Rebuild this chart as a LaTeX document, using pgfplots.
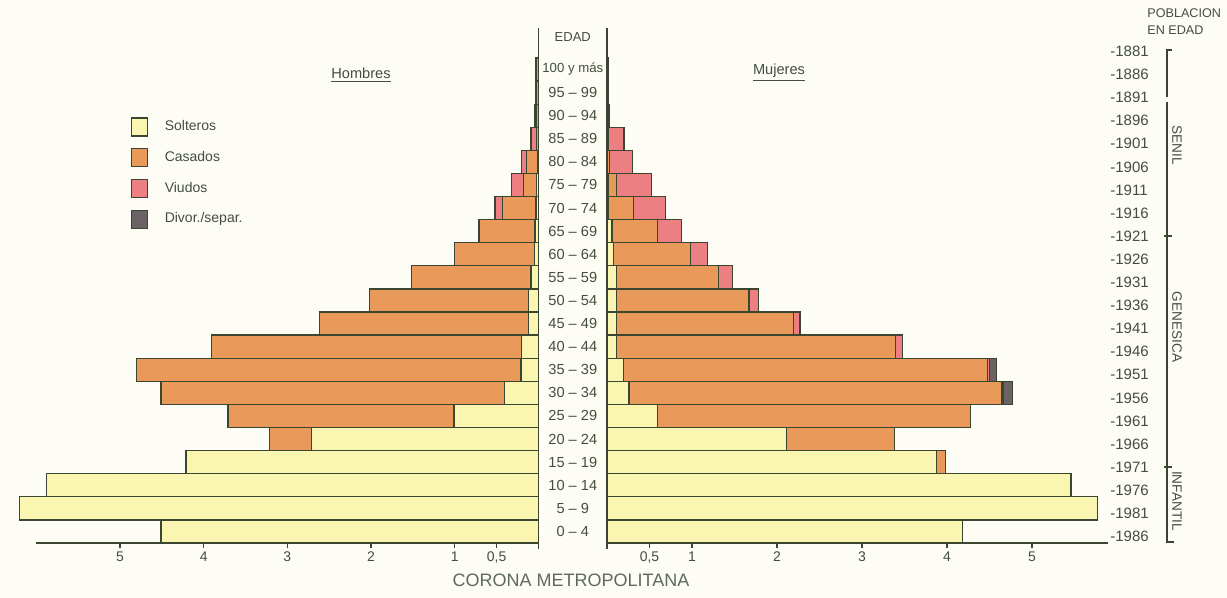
\documentclass[border=0pt]{standalone}
\usepackage{pgfplots}
\pgfplotsset{compat=1.18}
\usepackage{pgfplotstable}
\usepackage{fontspec}
\setmainfont{Liberation Sans}
\definecolor{sol}{HTML}{FAF5B0}
\definecolor{cas}{HTML}{E99A5A}
\definecolor{viu}{HTML}{EC7F82}
\definecolor{dvs}{HTML}{6C6266}
\definecolor{edge}{HTML}{3A4630}
\definecolor{txt}{HTML}{434E40}
\definecolor{bg}{HTML}{FDFDF5}

% y = centre of age group (0-4 -> 0.5 ... 100 y mas -> 20.5); values in %
\pgfplotstableread{
y    sol   cas   viu   dvs
0.5  4.51  0     0     0
1.5  6.20  0     0     0
2.5  5.88  0     0     0
3.5  4.21  0     0     0
4.5  2.71  0.50  0     0
5.5  1.01  2.70  0     0
6.5  0.41  4.10  0     0
7.5  0.21  4.59  0     0
8.5  0.20  3.71  0     0
9.5  0.12  2.50  0     0
10.5 0.12  1.90  0     0
11.5 0.09  1.43  0     0
12.5 0.05  0.95  0     0
13.5 0.04  0.67  0     0
14.5 0.03  0.40  0.09  0
15.5 0.02  0.16  0.14  0
16.5 0.01  0.13  0.06  0
17.5 0     0.02  0.07  0
18.5 0     0.02  0.02  0
19.5 0     0.02  0.01  0
20.5 0     0.02  0.01  0
}\hombres

\pgfplotstableread{
y    sol   cas   viu   dvs
0.5  4.18  0     0     0
1.5  5.77  0     0     0
2.5  5.46  0     0     0
3.5  3.88  0.10  0     0
4.5  2.11  1.27  0     0
5.5  0.59  3.69  0     0
6.5  0.26  4.38  0.02  0.11
7.5  0.19  4.29  0.02  0.08
8.5  0.115 3.275 0.09  0
9.5  0.115 2.075 0.08  0
10.5 0.115 1.555 0.11  0
11.5 0.115 1.195 0.17  0
12.5 0.08  0.90  0.20  0
13.5 0.06  0.53  0.29  0
14.5 0.02  0.29  0.38  0
15.5 0.01  0.10  0.41  0
16.5 0     0.03  0.27  0
17.5 0     0.01  0.19  0
18.5 0     0.01  0.02  0
19.5 0     0     0.02  0
20.5 0     0     0.02  0
}\mujeres

\pgfplotsset{
  pyr/.style={
    scale only axis, height=242.5pt, ymin=0, ymax=21,
    xbar stacked, bar width=1, clip=false,
    axis y line=none, axis x line*=bottom,
    xtick={0.5,1,2,3,4,5}, xticklabels={{0,5},1,2,3,4,5},
    tick align=outside, major tick length=2.5pt,
    tick style={edge, line width=0.6pt},
    x axis line style={edge, line width=0.7pt},
    xticklabel style={font=\fontsize{7}{8}\selectfont, text=txt, inner sep=1.5pt},
    every axis plot/.append style={draw=edge, line width=0.65pt},
  },
}

\begin{document}
\begin{tikzpicture}
\useasboundingbox (0,0) rectangle (613.5pt,299pt);
\fill[bg] (0,0) rectangle (613.5pt,299pt);

% Hombres
\begin{axis}[pyr, x dir=reverse, width=251.1pt, xmin=0, xmax=6,
  at={(18.15pt,27.5pt)}, anchor=south west,
  legend image code/.code={\draw[#1, draw=edge, line width=0.6pt] (0pt,-4.5pt) rectangle (8pt,4.5pt);},
  legend style={at={(axis cs:4.95,18.62)}, anchor=north west, draw=none, fill=none,
    legend cell align=left, row sep=5.8pt, column sep=7.5pt,
    font=\fontsize{7}{8}\selectfont, text=txt, nodes={inner sep=1pt}},
]
\addplot[fill=sol] table[x=sol, y=y] {\hombres};
\addplot[fill=cas] table[x=cas, y=y] {\hombres};
\addplot[fill=viu] table[x=viu, y=y] {\hombres};
\addplot[fill=dvs] table[x=dvs, y=y] {\hombres};
\legend{Solteros, Casados, Viudos, Divor./separ.}
\end{axis}

% Mujeres
\begin{axis}[pyr, width=250.75pt, xmin=0, xmax=5.9,
  at={(303.5pt,27.5pt)}, anchor=south west]
\addplot[fill=sol] table[x=sol, y=y] {\mujeres};
\addplot[fill=cas] table[x=cas, y=y] {\mujeres};
\addplot[fill=viu] table[x=viu, y=y] {\mujeres};
\addplot[fill=dvs] table[x=dvs, y=y] {\mujeres};
\end{axis}

% centre column
\draw[edge, line width=0.7pt] (269.25pt,24.5pt) -- (269.25pt,285pt);
\draw[edge, line width=0.7pt] (303.5pt,24.5pt) -- (303.5pt,285pt);
\node[text=txt, font=\fontsize{6.5}{7}\selectfont] at (286.4pt,280.5pt) {EDAD};
\foreach \i/\lab in {0/0 – 4, 1/5 – 9, 2/10 – 14, 3/15 – 19, 4/20 – 24, 5/25 – 29,
  6/30 – 34, 7/35 – 39, 8/40 – 44, 9/45 – 49, 10/50 – 54, 11/55 – 59, 12/60 – 64,
  13/65 – 69, 14/70 – 74, 15/75 – 79, 16/80 – 84, 17/85 – 89, 18/90 – 94,
  19/95 – 99}
  \node[text=txt, font=\fontsize{7.3}{8}\selectfont, inner sep=0pt]
    at (286.4pt, {27.5pt + 11.55pt*(\i+0.5)}) {\lab};
\node[text=txt, font=\fontsize{6.6}{7}\selectfont, inner sep=0pt]
    at (286.4pt, {27.5pt + 11.55pt*20.5}) {100 y más};

% titles
\node[text=txt, font=\fontsize{7.3}{8}\selectfont] at (180.5pt,261.5pt) {\underline{Hombres}};
\node[text=txt, font=\fontsize{7.3}{8}\selectfont] at (389.5pt,262.5pt) {\underline{Mujeres}};
\node[text=txt!85, font=\fontsize{9}{10}\selectfont] at (285.5pt,9pt) {CORONA METROPOLITANA};

% right: year of birth scale
\node[text=txt, font=\fontsize{6.3}{7}\selectfont, anchor=west, inner sep=0pt] at (573.5pt,292.5pt) {POBLACION};
\node[text=txt, font=\fontsize{6.3}{7}\selectfont, anchor=west, inner sep=0pt] at (573.5pt,284pt) {EN EDAD};
\foreach \k in {0,...,21}{
  \pgfmathtruncatemacro\yr{1986-5*\k}
  \node[text=txt, font=\fontsize{7.5}{8}\selectfont, anchor=west, inner sep=0pt]
    at (555pt, {30.75pt + 11.55pt*\k}) {-\yr};
}
\draw[edge, line width=0.6pt] (586pt,274pt) -- (583.5pt,274pt) -- (583.5pt,250.5pt);
\draw[edge, line width=0.6pt] (583.5pt,248pt) -- (583.5pt,28pt) -- (587pt,28pt);
\draw[edge, line width=0.6pt] (582pt,181pt) -- (586pt,181pt);
\draw[edge, line width=0.6pt] (582pt,65.5pt) -- (586pt,65.5pt);
\node[text=txt, font=\fontsize{6.8}{7}\selectfont, rotate=-90, inner sep=0pt] at (588.5pt,226.5pt) {SENIL};
\node[text=txt, font=\fontsize{6.8}{7}\selectfont, rotate=-90, inner sep=0pt] at (588.5pt,135.5pt) {GENESICA};
\node[text=txt, font=\fontsize{6.8}{7}\selectfont, rotate=-90, inner sep=0pt] at (588.5pt,48.5pt) {INFANTIL};
\end{tikzpicture}
\end{document}
